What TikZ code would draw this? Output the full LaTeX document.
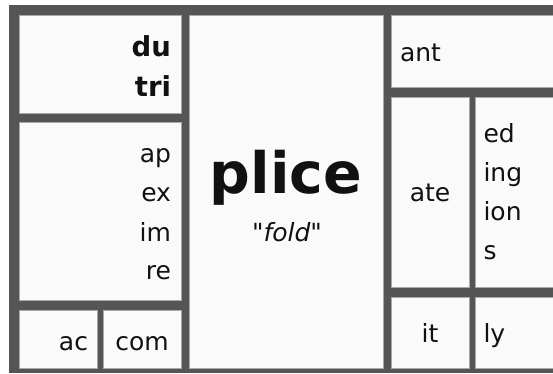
\documentclass[tikz,border=0pt]{standalone}
\usepackage{fontspec}
\setmainfont{DejaVu Sans}[Ligatures=TeXOff]
\usetikzlibrary{calc}
\definecolor{frame}{HTML}{555555}
\definecolor{cellfill}{HTML}{FAFAFA}
\definecolor{celledge}{HTML}{A8A8A8}
\definecolor{ink}{HTML}{111111}
\begin{document}
\begin{tikzpicture}[x=1pt,y=-1pt,
  cellbox/.style={rectangle,fill=cellfill,draw=celledge,line width=0.8pt,inner sep=0pt,outer sep=0pt},
  lbl/.style={inner sep=0pt,outer sep=0pt,text=ink,font=\fontsize{25}{30}\selectfont},
  blbl/.style={lbl,font=\fontsize{27.5}{30}\selectfont\bfseries},
  rl/.style={lbl,anchor=base east},
  ll/.style={lbl,anchor=base west},
  cl/.style={lbl,anchor=base}]
\useasboundingbox (0,0) rectangle (553,373);
\fill[white] (0,0) rectangle (553,373);
\fill[frame] (9,5) rectangle (553,373);
% cells
\node[cellbox,minimum width=162pt,minimum height=98pt]  (b-dutri) at (100,64) {};
\node[cellbox,minimum width=162pt,minimum height=178pt] (b-apex)  at (100,211) {};
\node[cellbox,minimum width=78pt,minimum height=58pt]   (b-ac)    at (58,339) {};
\node[cellbox,minimum width=78pt,minimum height=58pt]   (b-com)   at (142,339) {};
\node[cellbox,minimum width=194pt,minimum height=353pt] (b-plice) at (286,191.5) {};
\node[cellbox,minimum width=162pt,minimum height=72pt]  (b-ant)   at (472,51) {};
\node[cellbox,minimum width=78pt,minimum height=190pt]  (b-ate)   at (430,192) {};
\node[cellbox,minimum width=78pt,minimum height=190pt]  (b-ed)    at (514,192) {};
\node[cellbox,minimum width=78pt,minimum height=71pt]   (b-it)    at (430,332.5) {};
\node[cellbox,minimum width=78pt,minimum height=71pt]   (b-ly)    at (514,332.5) {};
% texts
\node[blbl,anchor=base east] (t-du)  at ($(b-dutri.north east)+(-10,41)$) {du};
\node[blbl,anchor=base east] (t-tri) at ($(b-dutri.north east)+(-10,81.7)$) {tri};
\node[rl] (t-ap) at ($(b-apex.north east)+(-10,40.7)$) {ap};
\node[rl] (t-ex) at ($(b-apex.north east)+(-10,79.7)$) {ex};
\node[rl] (t-im) at ($(b-apex.north east)+(-10,119.7)$) {im};
\node[rl] (t-re) at ($(b-apex.north east)+(-10,157.5)$) {re};
\node[rl] (t-ac) at ($(b-ac.north east)+(-9,40)$) {ac};
\node[cl] (t-com) at ($(b-com.north)+(0,40)$) {com};
\node[cl,font=\fontsize{57}{60}\selectfont\bfseries] (t-plice) at ($(b-plice.north)+(0,178.3)$) {plice};
\node[cl,font=\fontsize{25}{30}\selectfont\itshape] (t-fold) at ($(b-plice.north)+(1,226.7)$) {"fold"};
\node[ll] (t-ant) at ($(b-ant.north west)+(9,46.7)$) {ant};
\node[cl] (t-ate) at ($(b-ate.north)+(0,104.7)$) {ate};
\node[ll] (t-ed)  at ($(b-ed.north west)+(8.5,45.7)$) {ed};
\node[ll] (t-ing) at ($(b-ed.north west)+(8.5,84.7)$) {ing};
\node[ll] (t-ion) at ($(b-ed.north west)+(8.5,123.5)$) {ion};
\node[ll] (t-s)   at ($(b-ed.north west)+(8.5,162.3)$) {s};
\node[cl] (t-it)  at ($(b-it.north)+(0,45.7)$) {it};
\node[ll] (t-ly)  at ($(b-ly.north west)+(8.5,45.7)$) {ly};
\end{tikzpicture}
\end{document}
